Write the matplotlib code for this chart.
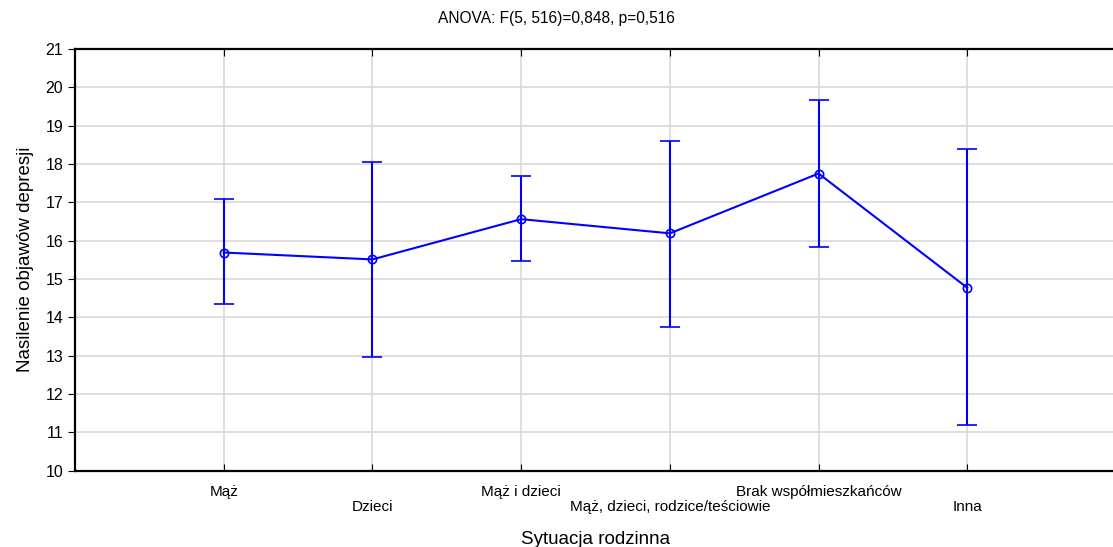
import matplotlib
matplotlib.use("Agg")
import matplotlib.pyplot as plt
import numpy as np

categories = ["Mąż", "Dzieci", "Mąż i dzieci", "Mąż, dzieci, rodzice/teściowie",
              "Brak współmieszkańców", "Inna"]
means = [15.69, 15.51, 16.56, 16.19, 17.75, 14.77]
upper = [17.08, 18.05, 17.68, 18.61, 19.68, 18.38]
lower = [14.34, 12.96, 15.46, 13.75, 15.83, 11.18]
title = "ANOVA: F(5, 516)=0,848, p=0,516"

plt.rcParams['font.family'] = ['Liberation Sans', 'DejaVu Sans']

fig = plt.figure(figsize=(11.13, 5.47), dpi=100)
ax = fig.add_axes([75/1113, (547-470.7)/547, (1116-75)/1113, (470.7-48.9)/547])

x = np.arange(1, len(categories)+1)
m = np.array(means)
yerr = [m - np.array(lower), np.array(upper) - m]
ax.errorbar(x, m, yerr=yerr, color='#0000ff', lw=1.5, elinewidth=1.5,
            capsize=7, capthick=1.5, marker='o', markersize=6,
            markerfacecolor='none', markeredgecolor='#0000ff', markeredgewidth=1.2,
            zorder=3)

ax.set_xlim(0, 7)
ax.set_ylim(10, 21)
ax.set_yticks(range(10, 22))
ax.set_xticks(x)
labels = [c if i % 2 == 0 else "\n" + c for i, c in enumerate(categories)]
ax.set_xticklabels(labels, fontsize=11, linespacing=1.15)
ax.tick_params(axis='x', direction='in', length=5, pad=10, top=True)
ax.tick_params(axis='y', direction='out', length=5, labelsize=11.5, right=True)
ax.grid(True, color='#d9d9d9', lw=1.2, zorder=0)
ax.set_axisbelow(True)
for s in ax.spines.values():
    s.set_linewidth(1.6)
    s.set_color('black')

ax.set_ylabel("Nasilenie objawów depresji", fontsize=13.5, labelpad=8)
ax.set_xlabel("Sytuacja rodzinna", fontsize=13.5, labelpad=12)
fig.text(0.5, 1 - 18/547, title, ha='center', va='center', fontsize=11.2)

fig.savefig("out.png", dpi=100)
